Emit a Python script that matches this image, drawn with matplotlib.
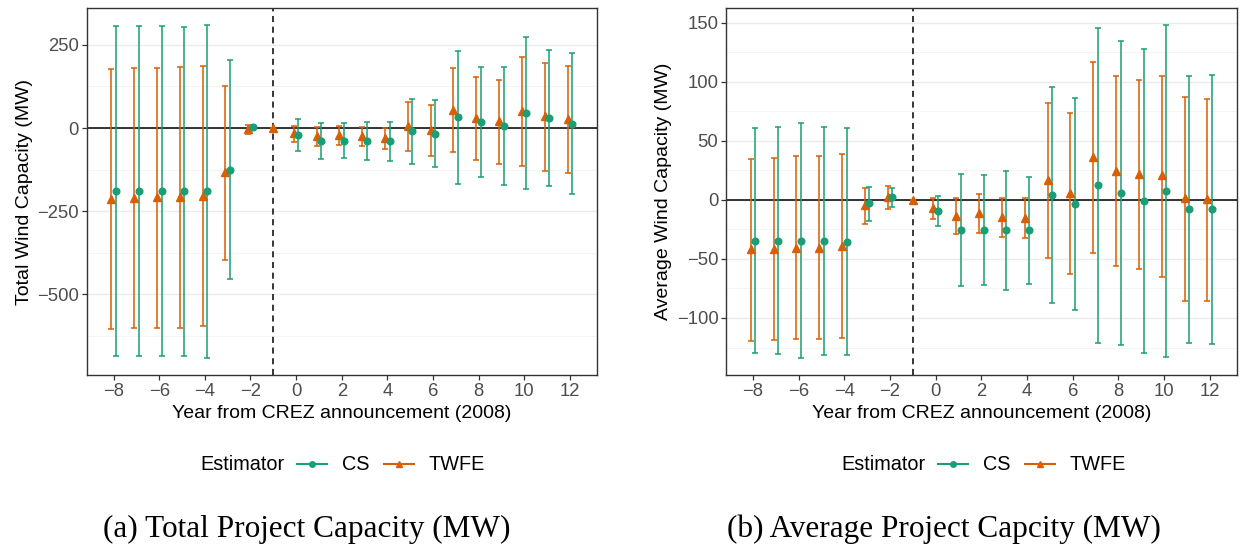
import numpy as np
import matplotlib
matplotlib.use("Agg")
import matplotlib.pyplot as plt
from matplotlib.lines import Line2D

# Colores (Dark2)
col_cs = '#1B9E77'
col_twfe = '#D95F02'

# Años relativos
anios = [-8, -7, -6, -5, -4, -3, -2, -1, 0, 1, 2, 3, 4, 5, 6, 7, 8, 9, 10, 11, 12]
anios_cs = [-8, -7, -6, -5, -4, -3, -2, 0, 1, 2, 3, 4, 5, 6, 7, 8, 9, 10, 11, 12]

# (a) Capacidad total - TWFE
tot_twfe = [-213, -210, -208, -208, -205, -132, -3, 0, -15, -25, -20, -25, -30, 5, -5, 55, 30, 20, 50, 35, 28]
tot_twfe_hi = [178, 180, 182, 183, 187, 127, 10, 0, 7, 2, 7, 3, 0, 77, 70, 182, 155, 145, 213, 196, 188]
tot_twfe_lo = [-605, -602, -600, -600, -595, -395, -17, 0, -42, -55, -52, -55, -63, -70, -85, -73, -96, -107, -115, -130, -135]
# (a) Capacidad total - CS
tot_cs = [-190, -190, -190, -190, -190, -125, 3, -21, -38, -38, -38, -40, -10, -17, 33, 17, 7, 45, 30, 13]
tot_cs_hi = [307, 307, 307, 305, 310, 205, 6, 26, 16, 15, 19, 19, 87, 83, 233, 184, 184, 275, 235, 225]
tot_cs_lo = [-685, -685, -685, -685, -692, -455, 0, -68, -92, -91, -96, -99, -107, -118, -169, -148, -172, -184, -175, -198]

# (b) Capacidad promedio - TWFE
avg_twfe = [-41.8, -41.2, -40.4, -40.4, -39.0, -4.2, 2.3, 0, -6.5, -13.3, -11.3, -14.1, -15.0, 17.0, 6.2, 36.2, 24.9, 22.3, 20.9, 1.7, 0.6]
avg_twfe_hi = [34.7, 35.9, 37.0, 37.0, 38.7, 10.5, 11.9, 0, 2.0, 2.0, 4.8, 2.0, 1.4, 81.9, 74.0, 116.7, 104.8, 101.7, 105.4, 87.6, 85.6]
avg_twfe_lo = [-119.2, -118.7, -118.1, -118.1, -117.2, -20.3, -7.6, 0, -16.1, -29.1, -28.0, -31.4, -32.2, -48.9, -63.0, -44.6, -55.7, -58.8, -65.0, -85.3, -85.6]
# (b) Capacidad promedio - CS
avg_cs = [-34.5, -34.5, -34.5, -34.7, -35.3, -2.8, 2.3, -9.0, -25.4, -25.4, -25.4, -25.4, 4.2, -3.4, 12.4, 5.7, -0.8, 7.6, -7.9, -7.9]
avg_cs_hi = [61.3, 62.2, 65.5, 61.9, 61.3, 11.3, 10.2, 3.7, 21.8, 20.9, 24.3, 19.5, 95.8, 86.7, 146.0, 134.8, 128.3, 148.3, 105.4, 106.2]
avg_cs_lo = [-129.4, -130.8, -134.2, -131.4, -131.4, -17.5, -5.7, -22.0, -72.6, -72.3, -76.0, -71.2, -87.3, -93.5, -120.9, -123.2, -129.4, -133.3, -121.5, -122.3]

paneles = [
    dict(twfe=(tot_twfe, tot_twfe_lo, tot_twfe_hi), cs=(tot_cs, tot_cs_lo, tot_cs_hi),
         ylabel="Total Wind Capacity (MW)", yticks=[-500, -250, 0, 250],
         yminor=[-625, -375, -125, 125], ylim=(-742, 360),
         caption="(a) Total Project Capacity (MW)"),
    dict(twfe=(avg_twfe, avg_twfe_lo, avg_twfe_hi), cs=(avg_cs, avg_cs_lo, avg_cs_hi),
         ylabel="Average Wind Capacity (MW)", yticks=[-100, -50, 0, 50, 100, 150],
         yminor=[-125, -75, -25, 25, 75, 125], ylim=(-148.3, 162.4),
         caption="(b) Average Project Capcity (MW)"),
]

plt.rcParams['font.family'] = ['Liberation Sans', 'DejaVu Sans']

fig = plt.figure(figsize=(12.43, 5.48), dpi=100)
W, H = 1243, 548
cajas = [(86.7, 596.7), (726, 1236.7)]
top_px, bot_px = 8.3, 375

def dodge(xs, d, anios_otro):
    # solo se desplaza si la otra serie existe en ese año
    return [x + d if x in anios_otro else x for x in xs]

for i, p in enumerate(paneles):
    x0, x1 = cajas[i]
    ax = fig.add_axes([x0 / W, 1 - bot_px / H, (x1 - x0) / W, (bot_px - top_px) / H])

    for y in p['yticks']:
        ax.axhline(y, color='#EBEBEB', lw=1.0, zorder=0)
    for y in p['yminor']:
        ax.axhline(y, color='#F2F2F2', lw=0.6, zorder=0)

    ax.axhline(0, color='black', lw=1.1, zorder=1)
    ax.axvline(-1, color='black', lw=1.1, ls=(0, (4, 3)), zorder=1)

    y, lo, hi = p['twfe']
    y = np.array(y); lo = np.array(lo); hi = np.array(hi)
    xt = np.array(dodge(anios, -0.1, anios_cs))
    ax.errorbar(xt, y, yerr=[y - lo, hi - y], fmt='none', ecolor=col_twfe,
                elinewidth=1.3, capsize=2.2, capthick=1.3, alpha=0.85, zorder=2)
    ax.plot(xt, y, '^', color=col_twfe, ms=5.8, zorder=3)

    y, lo, hi = p['cs']
    y = np.array(y); lo = np.array(lo); hi = np.array(hi)
    xc = np.array(dodge(anios_cs, 0.1, anios))
    ax.errorbar(xc, y, yerr=[y - lo, hi - y], fmt='none', ecolor=col_cs,
                elinewidth=1.3, capsize=2.2, capthick=1.3, alpha=0.85, zorder=2)
    ax.plot(xc, y, 'o', color=col_cs, ms=4.8, zorder=3)

    ax.set_xlim(-9.18, 13.18)
    ax.set_ylim(*p['ylim'])
    ax.set_xticks(range(-8, 13, 2))
    ax.set_xticklabels([str(t).replace('-', '\u2212') for t in range(-8, 13, 2)])
    ax.set_yticks(p['yticks'])
    ax.set_yticklabels([str(t).replace('-', '\u2212') for t in p['yticks']])
    ax.tick_params(colors='#333333', labelcolor='#4D4D4D', labelsize=13.3,
                   length=3.5, width=0.9, pad=2)
    for s in ax.spines.values():
        s.set_color('#333333')
        s.set_linewidth(1.0)
    ax.set_xlabel("Year from CREZ announcement (2008)", fontsize=14, labelpad=4)
    ax.set_ylabel(p['ylabel'], fontsize=14, labelpad=3)

    # Leyenda
    lx = [200, 841][i]
    fig.text(lx / W, 1 - 465 / H, "Estimator", fontsize=14.3, va='center', ha='left')
    handles = [Line2D([], [], color=col_cs, marker='o', ms=4, lw=1.5),
               Line2D([], [], color=col_twfe, marker='^', ms=4.5, lw=1.5)]
    fig.legend(handles=handles, labels=['CS', 'TWFE'], ncol=2, frameon=False,
               fontsize=14.3, handlelength=1.5, handletextpad=0.75, columnspacing=0.75,
               loc='center left', bbox_to_anchor=((lx + 97) / W, 1 - 465 / H),
               borderaxespad=0, borderpad=0)

    # Pie de figura
    fig.text([103, 727][i] / W, 1 - 537 / H, p['caption'], fontsize=22.5,
             family='Liberation Serif', va='baseline', ha='left')

fig.savefig("out.png", dpi=100)
